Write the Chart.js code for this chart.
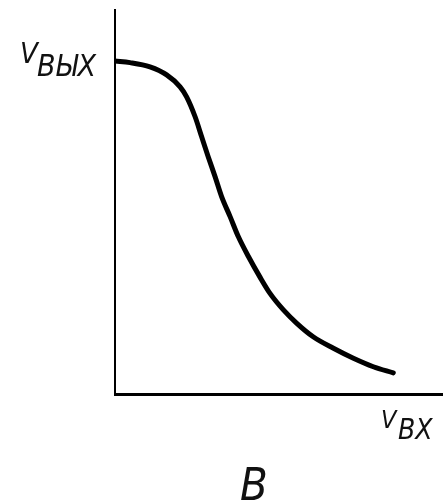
<!DOCTYPE html>
<html>
<head>
<meta charset="utf-8">
<script src="https://cdn.jsdelivr.net/npm/chart.js@4"></script>
<style>
  html, body { margin: 0; padding: 0; background: #fff; }
  #wrap { position: relative; width: 446px; height: 504px; }
  .lbl {
    position: absolute; line-height: 1; color: #111; white-space: nowrap;
    font-family: "DejaVu Sans Condensed", "DejaVu Sans", sans-serif;
    font-stretch: condensed; font-style: italic; text-transform: uppercase;
  }
</style>
</head>
<body>
<div id="wrap">
  <canvas id="grafico" width="446" height="504"></canvas>
  <!-- подписи осей -->
  <span class="lbl" style="left:20px; top:39px; font-size:29px;">V</span>
  <span class="lbl" style="left:37px; top:51px; font-size:30px;">вых</span>
  <span class="lbl" style="left:381px; top:407px; font-size:25px;">V</span>
  <span class="lbl" style="left:398px; top:416px; font-size:28px;">вх</span>
  <span class="lbl" style="left:240px; top:462px; font-size:45px;">в</span>
</div>
<script>
// передаточная характеристика (условные единицы 0..10)
const vIn  = [0, 0.46, 1.07, 1.58, 1.99, 2.19, 2.45, 2.65, 2.85, 3.06, 3.26, 3.52, 3.77, 4.08, 4.43, 4.74, 5.15, 5.56, 6.06, 6.68, 7.29, 7.90, 8.51];
const vOut = [8.67, 8.63, 8.52, 8.31, 8.00, 7.74, 7.22, 6.70, 6.18, 5.66, 5.14, 4.62, 4.10, 3.58, 3.05, 2.62, 2.19, 1.84, 1.49, 1.19, 0.93, 0.71, 0.55];

const ctx = document.getElementById('grafico').getContext('2d');

new Chart(ctx, {
  type: 'line',
  data: {
    datasets: [{
      data: vIn.map((x, i) => ({ x: x, y: vOut[i] })),
      borderColor: '#000',
      borderWidth: 5,
      pointRadius: 0,
      fill: false,
      cubicInterpolationMode: 'monotone',
      borderCapStyle: 'round',
      borderJoinStyle: 'round'
    }]
  },
  options: {
    responsive: false,
    animation: false,
    layout: { padding: { left: 115, top: 10, right: 4, bottom: 110 } },
    plugins: { legend: { display: false }, tooltip: { enabled: false } },
    scales: {
      x: {
        type: 'linear', min: 0, max: 10,
        ticks: { display: false },
        grid: { display: false, drawTicks: false },
        border: { display: true, color: '#000', width: 3 },
        afterFit: s => { s.height = 0; }
      },
      y: {
        min: 0, max: 10,
        ticks: { display: false },
        grid: { display: false, drawTicks: false },
        border: { display: true, color: '#000', width: 2 },
        afterFit: s => { s.width = 0; }
      }
    }
  }
});
</script>
</body>
</html>
